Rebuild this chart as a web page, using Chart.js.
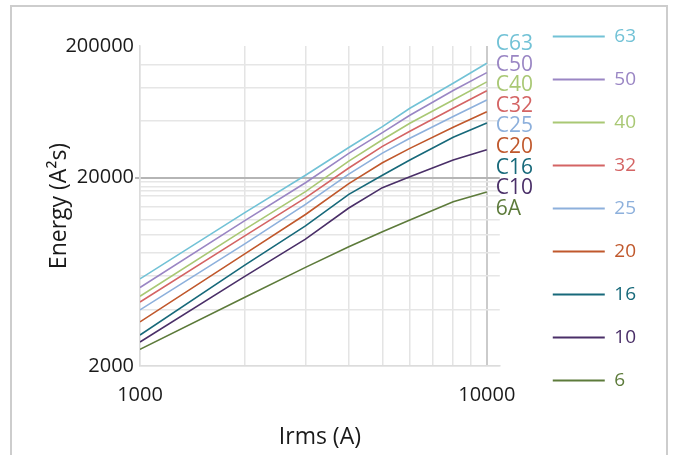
<!DOCTYPE html>
<html>
<head>
<meta charset="utf-8">
<script src="https://cdn.jsdelivr.net/npm/chart.js@4.4.1/dist/chart.umd.min.js"></script>
<style>
  html, body { margin: 0; padding: 0; background: #fff; overflow: hidden; }
  #frame { position: absolute; left: 10px; top: 5px; width: 654px; height: 480px; border: 2px solid #cdcdcd; }
  #energyChart { position: absolute; left: 0; top: 0; }
</style>
</head>
<body>
<div id="frame"></div>
<canvas id="energyChart" width="675" height="455"></canvas>
<script>
// Prospective current (A) where the curves were read
const currents = [1000, 2000, 3000, 4000, 5000, 6000, 8000, 10000];

// Let-through energy (A²s) per breaker rating
const c63 = [5800, 13000, 20600, 28900, 37300, 46700, 63400, 81000];
const c50 = [5220, 11800, 18800, 26900, 34700, 42900, 58000, 72200];
const c40 = [4690, 10600, 16850, 24500, 31800, 38900, 51700, 64500];
const c32 = [4370, 9780, 15630, 22500, 29300, 35300, 46700, 57900];
const c25 = [3970, 8880, 14420, 20900, 27000, 32400, 42200, 51700];
const c20 = [3430, 7850, 12750, 18600, 24000, 28600, 37000, 44800];
const c16 = [2920, 6850, 11100, 16300, 20600, 24800, 32800, 39000];
const c10 = [2680, 5960, 9430, 13800, 17700, 20200, 24800, 28100];
const a6 = [2450, 4620, 6680, 8600, 10330, 11930, 14900, 16800];

const seriesValues = [c63, c50, c40, c32, c25, c20, c16, c10, a6];
const legendLabels = ['63', '50', '40', '32', '25', '20', '16', '10', '6'];
const endLabels = ['C63', 'C50', 'C40', 'C32', 'C25', 'C20', 'C16', 'C10', '6A'];
const seriesColors = ['#72c2d6', '#9a86c4', '#a9c874', '#d46464', '#8db0dc', '#c0582c', '#17697a', '#4a2f68', '#5d7b3b'];

// Axis ticks (the picture labels its top line "200000")
const xTickValues = [1000, 2000, 3000, 4000, 5000, 6000, 7000, 8000, 9000, 10000];
const xTickLabels = ['1000', '', '', '', '', '', '', '', '', '10000'];
const yTickValues = [2000, 4000, 6000, 8000, 10000, 12000, 14000, 16000, 17000, 18000, 19000, 20000, 40000, 60000, 80000, 100000];
const yTickLabels = ['2000', '', '', '', '', '', '', '', '', '', '', '20000', '', '', '', '200000'];

const FONT = '"Open Sans", "Noto Sans", sans-serif';

// Stacked coloured names to the right of the plot
const endLabelPlugin = {
    id: 'endLabels',
    afterDraw(chart) {
        const { ctx, chartArea } = chart;
        ctx.save();
        ctx.font = '21px ' + FONT;
        ctx.textAlign = 'left';
        ctx.textBaseline = 'middle';
        endLabels.forEach((t, i) => {
            ctx.fillStyle = seriesColors[i];
            ctx.fillText(t, chartArea.right - 4, chartArea.top - 2 + i * 20.6);
        });
        ctx.restore();
    }
};

const datasets = seriesValues.map((vals, i) => ({
    label: legendLabels[i],
    data: currents.map((x, j) => ({ x: x, y: vals[j] })),
    borderColor: seriesColors[i],
    backgroundColor: seriesColors[i],
    borderWidth: 1.6,
    pointRadius: 0,
    tension: 0,
    fill: false
}));

new Chart(document.getElementById('energyChart').getContext('2d'), {
    type: 'line',
    data: { datasets: datasets },
    plugins: [endLabelPlugin],
    options: {
        responsive: false,
        animation: false,
        events: [],
        layout: { padding: { left: 30, right: 29, top: 3, bottom: 0 } },
        plugins: {
            tooltip: { enabled: false },
            title: { display: true, text: '', font: { size: 10 }, padding: { top: 0, bottom: 31 } },
            legend: {
                position: 'right',
                align: 'start',
                maxWidth: 200,
                labels: {
                    boxWidth: 52,
                    boxHeight: 2,
                    padding: 24,
                    font: { family: FONT, size: 19 },
                    generateLabels: chart => chart.data.datasets.map((ds, i) => ({
                        text: ds.label,
                        fillStyle: ds.borderColor,
                        strokeStyle: ds.borderColor,
                        lineWidth: 0,
                        fontColor: ds.borderColor,
                        hidden: false,
                        datasetIndex: i
                    }))
                }
            }
        },
        scales: {
            x: {
                type: 'logarithmic',
                min: 1000,
                max: 10900,
                afterBuildTicks: s => { s.ticks = xTickValues.map(v => ({ value: v })); },
                afterFit: s => { s.height = 89; },
                ticks: {
                    autoSkip: false,
                    maxRotation: 0,
                    padding: 17,
                    color: '#1a1a1a',
                    font: { family: FONT, size: 20 },
                    callback: (v, i) => xTickLabels[i]
                },
                grid: {
                    drawTicks: false,
                    color: c => (c.tick && c.tick.value === 10000) ? '#cbcbcb' : '#e4e4e4',
                    lineWidth: c => (c.tick && c.tick.value === 10000) ? 2 : 1.5
                },
                border: { color: '#dcdcdc', width: 1.5 },
                title: {
                    display: true,
                    text: 'Irms (A)',
                    color: '#1a1a1a',
                    font: { family: FONT, size: 23 },
                    padding: { top: 0, bottom: 4 }
                }
            },
            y: {
                type: 'logarithmic',
                min: 2000,
                max: 100000,
                afterBuildTicks: s => { s.ticks = yTickValues.map(v => ({ value: v })); },
                afterFit: s => { s.width = 110; },
                ticks: {
                    autoSkip: false,
                    padding: 1,
                    color: '#1a1a1a',
                    font: { family: FONT, size: 20 },
                    callback: (v, i) => yTickLabels[i]
                },
                grid: {
                    tickLength: 5,
                    color: c => {
                        if (!c.tick) return '#e4e4e4';
                        if (c.tick.value === 20000) return '#b5b5b5';
                        if (c.tick.value === 100000) return 'rgba(0,0,0,0)';
                        return '#e6e6e6';
                    },
                    tickColor: c => (c.tick && c.tick.value === 20000) ? '#b5b5b5' : 'rgba(0,0,0,0)',
                    lineWidth: c => (c.tick && c.tick.value === 20000) ? 2 : 1.5
                },
                border: { color: '#dcdcdc', width: 1.5 },
                title: {
                    display: true,
                    text: 'Energy (A²s)',
                    color: '#1a1a1a',
                    font: { family: FONT, size: 23 },
                    padding: { top: 16, bottom: 0 }
                }
            },
            spacer: {
                type: 'linear',
                position: 'right',
                display: true,
                afterFit: s => { s.width = 29; },
                grid: { display: false, drawTicks: false },
                border: { display: false },
                ticks: { display: false }
            }
        }
    }
});
</script>
</body>
</html>
